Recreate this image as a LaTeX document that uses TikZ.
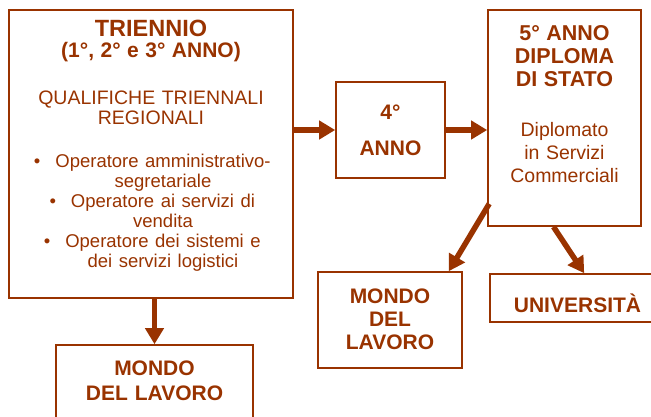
\documentclass[tikz,border=0pt]{standalone}
\usepackage{fontspec}
\setmainfont{Liberation Sans}
\usetikzlibrary{arrows.meta, calc}
\definecolor{ruggine}{RGB}{153,51,0}
\setlength{\parindent}{0pt}
\newcommand{\sposta}[1]{\hspace*{24pt}#1}
\newcommand{\voce}[1]{\hspace*{24pt}\llap{\textbullet\hspace{15pt}}#1}

\begin{document}
\begin{tikzpicture}[
        x=1pt, y=-1pt,
        box/.style={draw=ruggine, line width=1.6pt, text=ruggine, align=center, inner sep=0pt},
        titolo/.style={font=\bfseries\fontsize{21}{23}\selectfont},
        freccia/.style={draw=ruggine, line width=5.5pt, -{Triangle[length=16pt,width=18pt]}}
    ]
        \useasboundingbox (0,0) rectangle (651,416);
        \clip (0,0) rectangle (651,416);

        % Triennio
        \node[box, minimum width=284pt, minimum height=288pt, text width=284pt,
            text height=15pt, text depth=251pt,
            font=\fontsize{19.5}{20}\selectfont] (triennio) at (151,154)
            {{\bfseries{\fontsize{23.5}{20}\selectfont TRIENNIO}\\[1pt]
              \fontsize{21}{20}\selectfont (1°, 2° e 3° ANNO)}\\[27pt]
             QUALIFICHE TRIENNALI\\ REGIONALI\\[23pt]
             {\fontsize{18.5}{20}\selectfont
             \voce{Operatore amministrativo-}\\ \sposta{segretariale}\\
             \voce{Operatore ai servizi di}\\ \sposta{vendita}\\
             \voce{Operatore dei sistemi e}\\ \sposta{dei servizi logistici}}};

        % 4 anno and 5 anno
        \node[box, titolo, minimum width=109pt, minimum height=96pt, text width=109pt,
            text height=15pt, text depth=36pt] (quarto)
            at (390.5,130) {4°\\[13pt]ANNO};
        \node[box, minimum width=153pt, minimum height=216pt, text width=153pt,
            text height=15pt, text depth=171pt,
            font=\fontsize{19.5}{23}\selectfont] (diploma) at (564.5,118)
            {{\bfseries\fontsize{21.5}{23}\selectfont 5° ANNO\\ DIPLOMA\\ DI STATO}\\[27pt]
             Diplomato\\ in Servizi\\ Commerciali};

        % Uscite
        \node[box, titolo, minimum width=197pt, minimum height=76pt, text width=197pt,
            text height=15pt, text depth=31pt] (lavoro1) at (154.5,383) {MONDO\\[2pt] DEL LAVORO};
        \node[box, titolo, minimum width=144pt, minimum height=96pt, text width=144pt,
            text height=15pt, text depth=49pt] (lavoro2) at (390,320) {MONDO\\ DEL\\ LAVORO};
        \node[box, titolo, minimum width=175pt, minimum height=48pt, text width=175pt,
            text height=28pt, text depth=0pt] (univ) at (577.5,298) {UNIVERSITÀ};

        % Frecce
        \draw[freccia] (lavoro1.north |- triennio.south) -- (lavoro1.north);
        \draw[freccia] (triennio.east |- quarto.west) -- (quarto.west);
        \draw[freccia] (quarto.east) -- (diploma.west |- quarto.east);
        \draw[freccia] ($(diploma.south west)+(2,-23)$) -- ($(lavoro2.north east)+(-14,0)$);
        \draw[freccia] ($(diploma.south)+(-11,0)$) -- ($(univ.north west)+(95,0)$);
    \end{tikzpicture}
\end{document}
